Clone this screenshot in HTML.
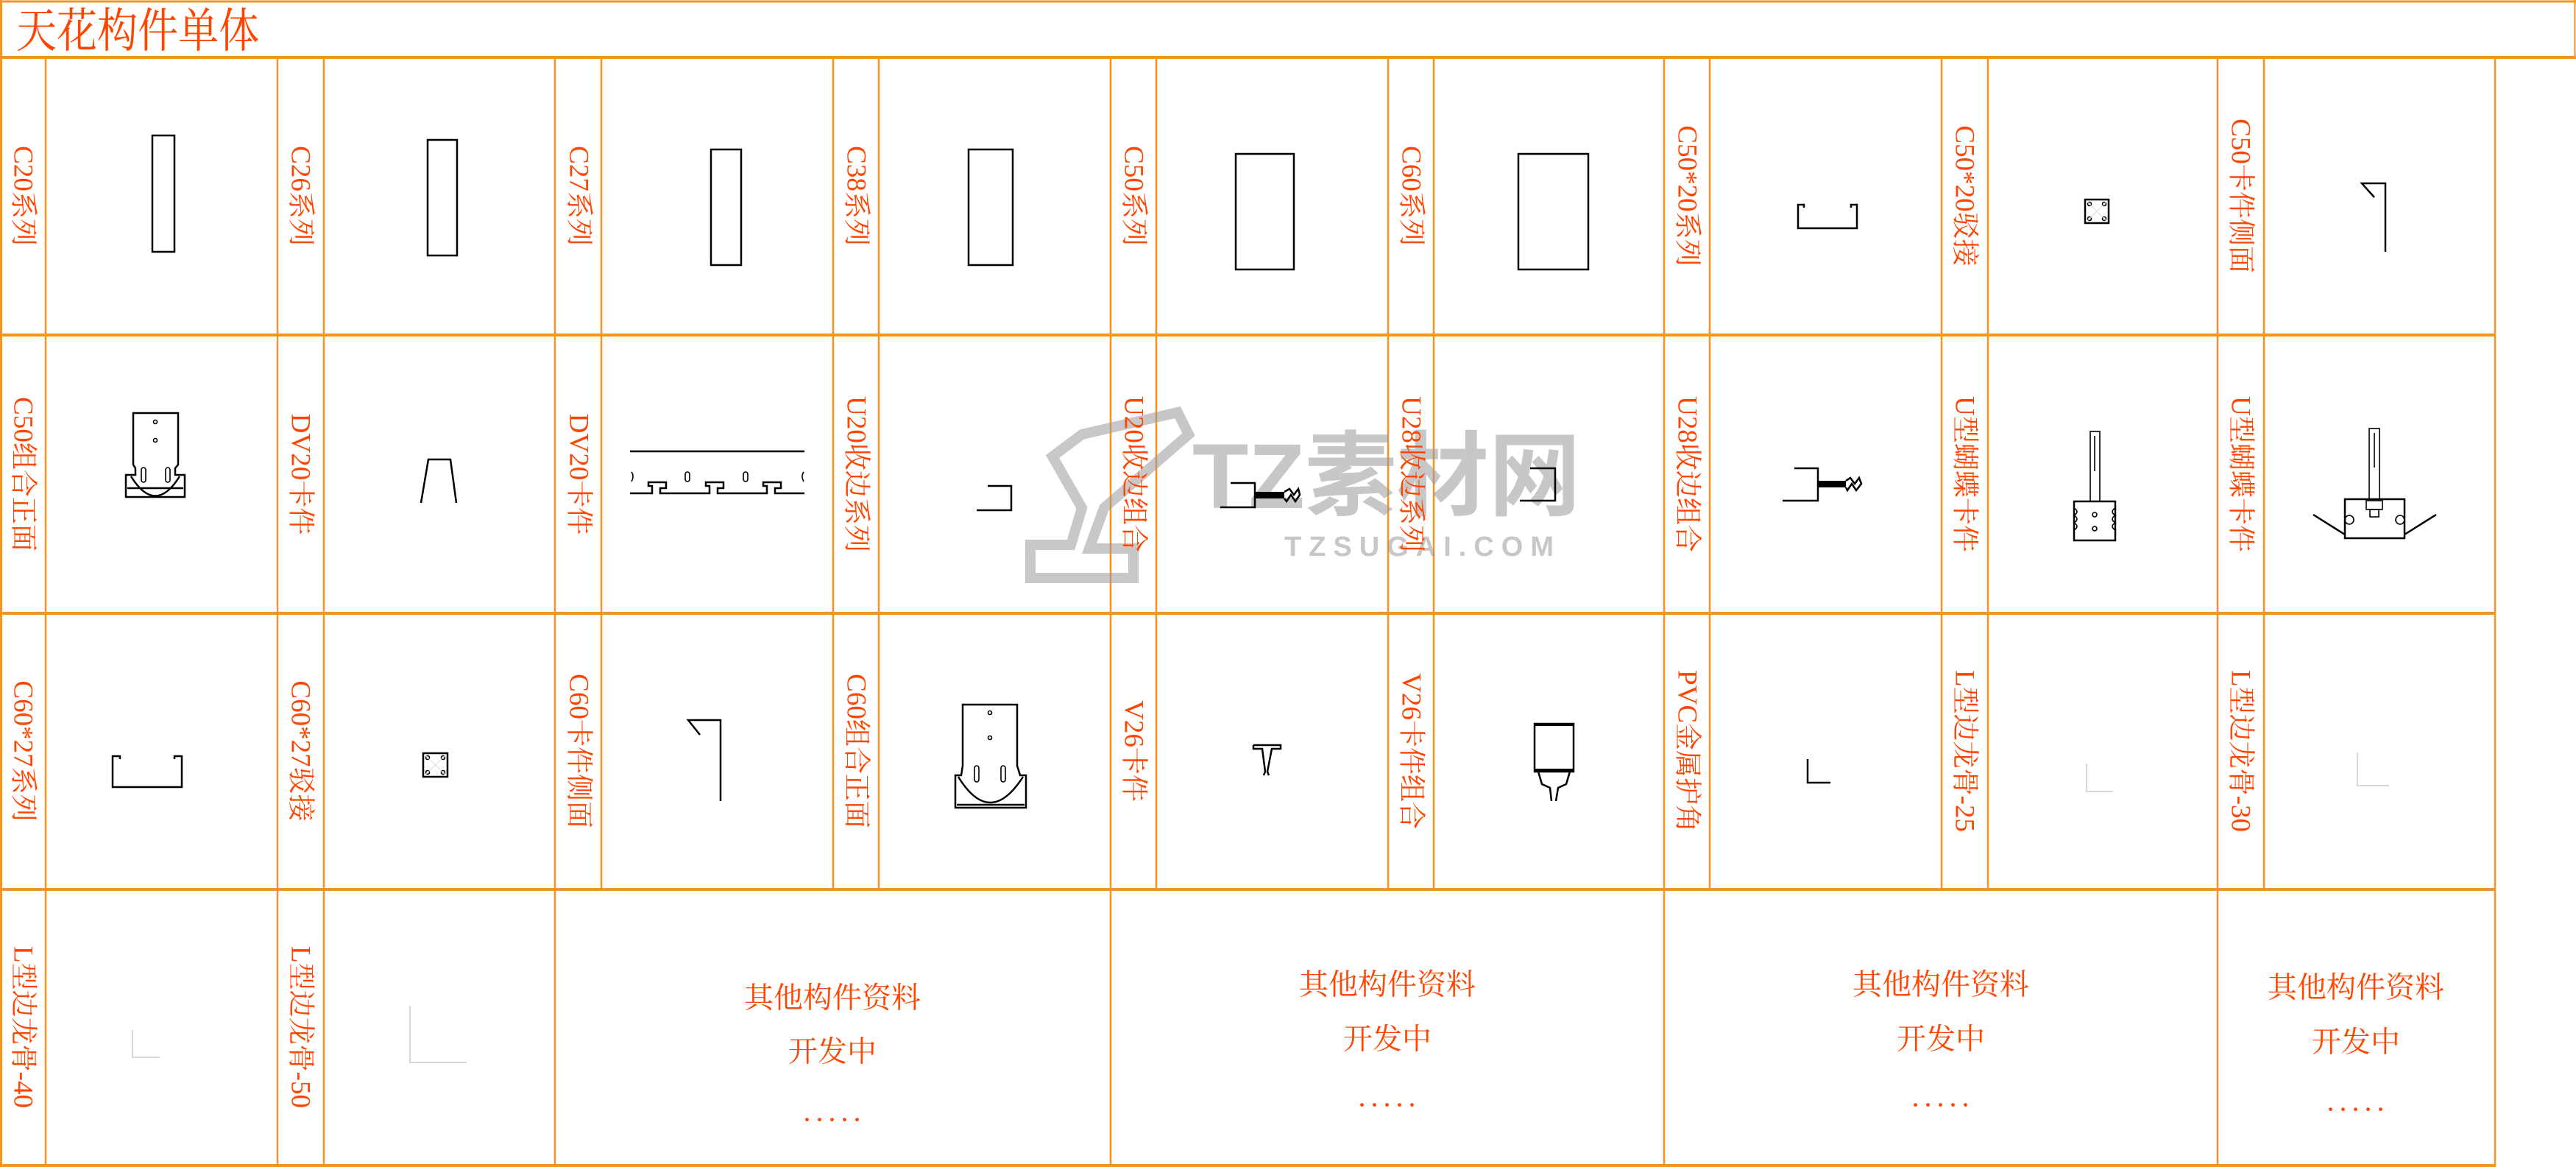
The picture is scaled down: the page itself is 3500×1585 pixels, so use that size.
<!DOCTYPE html>
<html><head><meta charset="utf-8">
<style>
html,body{margin:0;padding:0;background:#fff;}
body{width:3500px;height:1585px;overflow:hidden;}
svg{display:block;}
.lbl{font-family:"Liberation Serif","Noto Serif CJK SC",serif;font-size:37px;fill:#FF4500;}
.ctr{font-family:"Liberation Serif","Noto Serif CJK SC",serif;font-size:40px;fill:#FF4500;}
.dots{letter-spacing:7px;}
.s{fill:none;stroke:#000;stroke-width:2.5;}
.sf{fill:none;stroke:#000;stroke-width:1.6;}
.faint{fill:none;stroke:#d8d8d8;stroke-width:2;}
</style></head><body>
<svg width="3500" height="1585" viewBox="0 0 3500 1585" xmlns="http://www.w3.org/2000/svg">
<rect x="0" y="0" width="3500" height="1585" fill="#fff"/>
<g stroke="#F7931E" fill="none">
<line x1="0" y1="2" x2="3500" y2="2" stroke-width="3"/>
<line x1="0" y1="78" x2="3500" y2="78" stroke-width="4"/>
<line x1="1.5" y1="0" x2="1.5" y2="1585" stroke-width="3"/>
<line x1="3498.5" y1="0" x2="3498.5" y2="78" stroke-width="2"/>
<line x1="0" y1="455" x2="3390" y2="455" stroke-width="4"/>
<line x1="0" y1="833" x2="3390" y2="833" stroke-width="4"/>
<line x1="0" y1="1208" x2="3390" y2="1208" stroke-width="4"/>
<line x1="0" y1="1583" x2="3390" y2="1583" stroke-width="4"/>
<g stroke-width="2.5">
<line x1="62" y1="78" x2="62" y2="1585"/>
<line x1="377" y1="78" x2="377" y2="1585"/>
<line x1="440" y1="78" x2="440" y2="1585"/>
<line x1="754" y1="78" x2="754" y2="1585"/>
<line x1="817" y1="78" x2="817" y2="1208"/>
<line x1="1132" y1="78" x2="1132" y2="1208"/>
<line x1="1194" y1="78" x2="1194" y2="1208"/>
<line x1="1509" y1="78" x2="1509" y2="1585"/>
<line x1="1571" y1="78" x2="1571" y2="1208"/>
<line x1="1886" y1="78" x2="1886" y2="1208"/>
<line x1="1948" y1="78" x2="1948" y2="1208"/>
<line x1="2261" y1="78" x2="2261" y2="1585"/>
<line x1="2323" y1="78" x2="2323" y2="1208"/>
<line x1="2638" y1="78" x2="2638" y2="1208"/>
<line x1="2701" y1="78" x2="2701" y2="1208"/>
<line x1="3013" y1="78" x2="3013" y2="1585"/>
<line x1="3076" y1="78" x2="3076" y2="1208"/>
<line x1="3390" y1="78" x2="3390" y2="1585"/>
</g>
</g>

<text x="22" y="64" font-family="'Liberation Serif','Noto Serif CJK SC',serif" font-size="64" fill="#FF4500" transform="translate(22,0) scale(0.86,1) translate(-22,0)">天花构件单体</text>

<g opacity="0.55">
<path d="M1470,590 L1600,560 L1615,590 L1500,690 L1480,745 L1540,745 L1540,785 L1400,785 L1400,740 L1455,740 L1470,690 L1430,620 Z" fill="none" stroke="#9a9a9a" stroke-width="14"/>
<text x="1620" y="690" font-family="'Liberation Sans','Noto Sans CJK SC',sans-serif" font-weight="bold" font-size="125" fill="#9a9a9a">TZ素材网</text>
<text x="1745" y="755" font-family="'Liberation Sans',sans-serif" font-weight="bold" font-size="38" letter-spacing="10" fill="#9a9a9a">TZSUGAI.COM</text>
</g>

<g class="lbl" text-anchor="middle" dominant-baseline="central">
<text transform="translate(31,266) rotate(90)">C20系列</text>
<text transform="translate(408,266) rotate(90)">C26系列</text>
<text transform="translate(786,266) rotate(90)">C27系列</text>
<text transform="translate(1163,266) rotate(90)">C38系列</text>
<text transform="translate(1540,266) rotate(90)">C50系列</text>
<text transform="translate(1917,266) rotate(90)">C60系列</text>
<text transform="translate(2292,266) rotate(90)">C50*20系列</text>
<text transform="translate(2669,266) rotate(90)">C50*20驳接</text>
<text transform="translate(3044,266) rotate(90)">C50卡件侧面</text>

<text transform="translate(31,644) rotate(90)">C50组合正面</text>
<text transform="translate(408,644) rotate(90)">DV20卡件</text>
<text transform="translate(786,644) rotate(90)">DV20卡件</text>
<text transform="translate(1163,644) rotate(90)">U20收边系列</text>
<text transform="translate(1540,644) rotate(90)">U20收边组合</text>
<text transform="translate(1917,644) rotate(90)">U28收边系列</text>
<text transform="translate(2292,644) rotate(90)">U28收边组合</text>
<text transform="translate(2669,644) rotate(90)">U型蝴蝶卡件</text>
<text transform="translate(3044,644) rotate(90)">U型蝴蝶卡件</text>

<text transform="translate(31,1020) rotate(90)">C60*27系列</text>
<text transform="translate(408,1020) rotate(90)">C60*27驳接</text>
<text transform="translate(786,1020) rotate(90)">C60卡件侧面</text>
<text transform="translate(1163,1020) rotate(90)">C60组合正面</text>
<text transform="translate(1540,1020) rotate(90)">V26卡件</text>
<text transform="translate(1917,1020) rotate(90)">V26卡件组合</text>
<text transform="translate(2292,1020) rotate(90)">PVC金属护角</text>
<text transform="translate(2669,1020) rotate(90)">L型边龙骨-25</text>
<text transform="translate(3044,1020) rotate(90)">L型边龙骨-30</text>

<text transform="translate(31,1395) rotate(90)">L型边龙骨-40</text>
<text transform="translate(408,1395) rotate(90)">L型边龙骨-50</text>
</g>

<g class="ctr" text-anchor="middle" dominant-baseline="central">
<text x="1131" y="1355">其他构件资料</text>
<text x="1131" y="1428">开发中</text>
<text class="dots" x="1134" y="1509">.....</text>
<text x="1885" y="1337">其他构件资料</text>
<text x="1885" y="1411">开发中</text>
<text class="dots" x="1888" y="1489">.....</text>
<text x="2637" y="1337">其他构件资料</text>
<text x="2637" y="1411">开发中</text>
<text class="dots" x="2640" y="1489">.....</text>
<text x="3201" y="1341">其他构件资料</text>
<text x="3201" y="1415">开发中</text>
<text class="dots" x="3204" y="1495">.....</text>
</g>

<rect class="s" x="207" y="184" width="30" height="158"/>
<rect class="s" x="581" y="190" width="40" height="157"/>
<rect class="s" x="966" y="203" width="41" height="157"/>
<rect class="s" x="1316" y="203" width="60" height="157"/>
<rect class="s" x="1679" y="209" width="79" height="157"/>
<rect class="s" x="2063" y="209" width="95" height="157"/>
<path class="s" d="M2451,282 L2451,278 L2443,278 L2443,310 L2523,310 L2523,278 L2515,278 L2515,282" stroke-width="3"/>
<rect class="s" x="2833" y="271" width="32" height="32"/>
<g class="sf"><circle cx="2839" cy="277" r="2.5"/><circle cx="2859" cy="277" r="2.5"/><circle cx="2839" cy="297" r="2.5"/><circle cx="2859" cy="297" r="2.5"/></g>
<path d="M2836,274 L2862,300 M2862,274 L2836,300" stroke="#ddd" stroke-width="1"/>
<path class="s" d="M3226,268 L3209,249 L3241,249 L3241,342" stroke-width="3"/>

<path class="s" d="M181,561 L242,561 L242,631 L238,636 L238,645 L251,645 L251,675 L171,675 L171,645 L184,645 L184,636 L181,631 Z" stroke-width="2.2"/>
<circle class="sf" cx="211" cy="573" r="2.5"/><circle class="sf" cx="211" cy="598" r="2.5"/>
<rect class="sf" x="192" y="635" width="6" height="20" rx="3"/><rect class="sf" x="225" y="635" width="6" height="20" rx="3"/>
<path class="s" d="M178,647 Q211,700 244,647" stroke-width="2"/>
<line class="s" x1="173" y1="663" x2="249" y2="663" stroke-width="1.5"/>
<path class="s" d="M572,683 L582,624 L612,624 L620,683" stroke-width="3"/>
<line class="s" x1="856" y1="613" x2="1093" y2="613"/>
<path class="s" d="M856,670 L886,670 L886,660 L881,660 L881,655 L905,655 L905,663 L897,663 L897,670 L964,670 L964,660 L959,660 L959,655 L983,655 L983,663 L975,663 L975,670 L1042,670 L1042,660 L1037,660 L1037,655 L1061,655 L1061,663 L1053,663 L1053,670 L1093,670"/>
<g class="sf"><rect x="931" y="641" width="6" height="13" rx="3"/><rect x="1010" y="641" width="6" height="13" rx="3"/><path d="M858,641 Q862,647 858,654"/><path d="M1092,641 Q1088,647 1092,654"/></g>
<path class="s" d="M1342,660 L1374,660 L1374,693 L1327,693" stroke-width="3"/>
<path class="s" d="M1672,656 L1705,656 L1705,689 L1658,689" stroke-width="3"/>
<rect x="1705" y="668" width="40" height="9" fill="#000"/>
<path class="s" d="M1745,668 L1752,664 L1758,672 L1764,664 L1766,672 L1760,681 L1754,672 L1748,681 L1745,677" stroke-width="2"/>
<path class="s" d="M2079,636 L2113,636 L2113,680 L2065,680" stroke-width="3"/>
<path class="s" d="M2438,636 L2470,636 L2470,680 L2422,680" stroke-width="3"/>
<rect x="2470" y="653" width="38" height="9" fill="#000"/>
<path class="s" d="M2508,653 L2514,649 L2520,657 L2526,649 L2529,657 L2522,666 L2516,657 L2510,666 L2508,662" stroke-width="2"/>
<rect class="sf" x="2840" y="586" width="13" height="95"/>
<line class="sf" x1="2846" y1="592" x2="2846" y2="640"/>
<path class="s" d="M2818,681 L2874,681 L2874,734 L2818,734 Z" stroke-width="2.5"/>
<path class="sf" d="M2818,690 q8,5 0,10 q8,5 0,10 q8,5 0,10 M2874,690 q-8,5 0,10 q-8,5 0,10 q-8,5 0,10"/>
<circle class="sf" cx="2846" cy="699" r="3"/><circle class="sf" cx="2846" cy="718" r="3"/>
<rect class="sf" x="3219" y="582" width="14" height="96"/>
<line class="sf" x1="3226" y1="588" x2="3226" y2="635"/>
<rect class="s" x="3186" y="678" width="81" height="53" stroke-width="2.5"/>
<rect class="sf" x="3215" y="680" width="22" height="12"/>
<rect class="sf" x="3220" y="692" width="12" height="10"/>
<line class="s" x1="3143" y1="699" x2="3186" y2="726" stroke-width="3"/>
<line class="s" x1="3310" y1="699" x2="3267" y2="726" stroke-width="3"/>
<circle class="sf" cx="3192" cy="706" r="6"/><circle class="sf" cx="3261" cy="706" r="6"/>

<path class="s" d="M163,1031 L163,1027 L153,1027 L153,1069 L247,1069 L247,1027 L237,1027 L237,1031" stroke-width="3"/>
<rect class="s" x="575" y="1023" width="33" height="32"/>
<g class="sf"><circle cx="581" cy="1029" r="2.5"/><circle cx="602" cy="1029" r="2.5"/><circle cx="581" cy="1049" r="2.5"/><circle cx="602" cy="1049" r="2.5"/></g>
<path d="M578,1026 L605,1052 M605,1026 L578,1052" stroke="#ddd" stroke-width="1"/>
<path class="s" d="M951,998 L935,978 L979,978 L979,1088" stroke-width="3"/>
<path class="s" d="M1308,957 L1382,957 L1382,1040 L1386,1053 L1394,1053 L1394,1097 L1298,1097 L1298,1053 L1306,1053 L1308,1040 Z" stroke-width="2.2"/>
<circle class="sf" cx="1345" cy="968" r="2.5"/><circle class="sf" cx="1345" cy="1002" r="2.5"/>
<rect class="sf" x="1324" y="1040" width="6" height="22" rx="3"/><rect class="sf" x="1360" y="1040" width="6" height="22" rx="3"/>
<path class="s" d="M1302,1055 Q1345,1125 1390,1055" stroke-width="2"/>
<line class="s" x1="1300" y1="1093" x2="1392" y2="1093" stroke-width="2"/>
<path class="s" d="M1703,1012 L1740,1012 L1740,1017 L1728,1017 L1722,1048 L1724,1053 M1703,1012 L1703,1017 L1715,1017 L1719,1048 L1717,1053" stroke-width="3"/>
<rect class="s" x="2085" y="983" width="53" height="65" stroke-width="2.5"/>
<line x1="2085" y1="984" x2="2138" y2="984" stroke="#000" stroke-width="4"/>
<line x1="2085" y1="1046" x2="2138" y2="1046" stroke="#000" stroke-width="4"/>
<path class="s" d="M2090,1048 L2095,1065 L2106,1070 L2108,1088 M2133,1048 L2128,1065 L2117,1070 L2114,1088" stroke-width="2.5"/>
<path class="s" d="M2456,1031 L2456,1063 L2487,1063" stroke-width="3.5"/>
<path class="faint" d="M2835,1037 L2835,1075 L2871,1075"/>
<path class="faint" d="M3203,1022 L3203,1067 L3246,1067"/>
<path class="faint" d="M180,1399 L180,1436 L217,1436"/>
<path class="faint" d="M557,1366 L557,1443 L634,1443"/>
</svg>
</body></html>
